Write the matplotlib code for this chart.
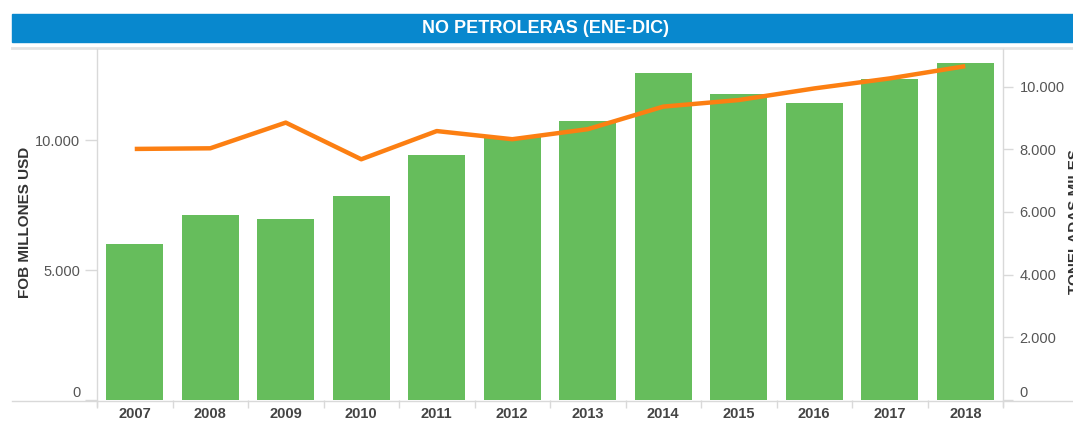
import matplotlib
matplotlib.use("Agg")
import matplotlib.pyplot as plt
from matplotlib.lines import Line2D
from matplotlib.patches import Rectangle

# datos
anios = ['2007', '2008', '2009', '2010', '2011', '2012',
         '2013', '2014', '2015', '2016', '2017', '2018']
fob_millones = [6000, 7130, 6970, 7860, 9440, 10100,
                10740, 12570, 11760, 11440, 12340, 12950]
toneladas_miles = [8010, 8030, 8850, 7680, 8580, 8320,
                   8640, 9360, 9570, 9940, 10260, 10650]

left_ticks = [0, 5000, 10000]
right_ticks = [0, 2000, 4000, 6000, 8000, 10000]

VERDE = '#66BD5C'
NARANJA = '#FC7F12'
GRIS = '#D9D9D9'
TXT = '#555555'

W, H = 1073, 421
fig = plt.figure(figsize=(W / 100, H / 100), dpi=100)
plt.rcParams['font.family'] = ['Liberation Sans', 'DejaVu Sans']


def fx(px):
    return px / W


def fy(py):
    return 1 - py / H


# barra del titulo
fig.patches.append(Rectangle((fx(12), fy(42)), 1 - fx(12), fy(14) - fy(42),
                             transform=fig.transFigure, color='#0888CE', zorder=0))
fig.text(fx(545), fy(28.5), 'NO PETROLERAS (ENE-DIC)', color='white', fontsize=13,
         fontweight='bold', ha='center', va='center',
         family=['Liberation Sans Narrow', 'DejaVu Sans Condensed', 'Liberation Sans'])

ax = fig.add_axes([fx(97), fy(400), fx(1003) - fx(97), fy(48) - fy(400)])
ax2 = ax.twinx()

x = list(range(len(anios)))
ax.bar(x, fob_millones, width=0.755, color=VERDE, zorder=2)
ax2.plot(x, toneladas_miles, color=NARANJA, linewidth=3.2, solid_capstyle='butt', zorder=3)

ax.set_xlim(-0.5, len(anios) - 0.5)
ax.set_ylim(0, 13540)
ax2.set_ylim(0, 11230)

for a in (ax, ax2):
    for s in a.spines.values():
        s.set_visible(False)

ax.set_xticks(x)
ax.set_xticklabels(anios, fontsize=10.5, fontweight='bold', color='#444444')
ax.tick_params(axis='x', which='major', length=0, pad=5)
ax.set_xticks([i + 0.5 for i in range(-1, len(anios))], minor=True)
ax.tick_params(axis='x', which='minor', length=6, color=GRIS, width=1)

ax.set_yticks(left_ticks)
ax.set_yticklabels([f"{v:,}".replace(',', '.') for v in left_ticks], fontsize=10.5, color=TXT)
ax.tick_params(axis='y', length=9, color=GRIS, width=1, pad=3)
ax.get_yticklabels()[0].set_verticalalignment('bottom')

ax2.set_yticks(right_ticks)
ax2.set_yticklabels([f"{v:,}".replace(',', '.') for v in right_ticks], fontsize=10.5, color=TXT)
ax2.tick_params(axis='y', length=7, color=GRIS, width=1, pad=5)
ax2.get_yticklabels()[0].set_verticalalignment('bottom')

# lineas del marco
fig.lines.append(Line2D([fx(12), 1], [fy(48), fy(48)], transform=fig.transFigure, color='#E3E3E3', lw=2))
fig.lines.append(Line2D([fx(12), 1], [fy(401), fy(401)], transform=fig.transFigure, color=GRIS, lw=1))
fig.lines.append(Line2D([fx(97), fx(97)], [fy(49), fy(406)], transform=fig.transFigure, color=GRIS, lw=1))
fig.lines.append(Line2D([fx(1003), fx(1003)], [fy(49), fy(406)], transform=fig.transFigure, color=GRIS, lw=1))

fig.text(fx(25), fy(222), 'FOB MILLONES USD', rotation=90, fontsize=11, fontweight='bold',
         color='#333333', ha='center', va='center')
fig.text(fx(1075), fy(222), 'TONELADAS MILES', rotation=90, fontsize=11, fontweight='bold',
         color='#333333', ha='center', va='center')

fig.savefig('out.png', dpi=100)
